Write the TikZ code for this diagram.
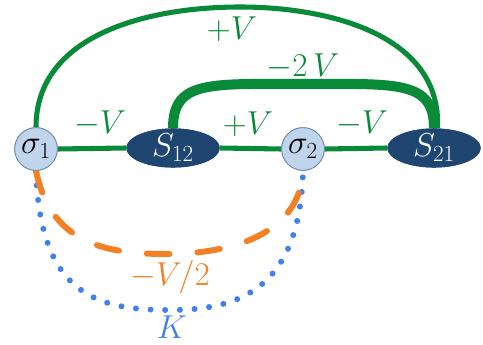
\documentclass[tikz,border=0pt]{standalone}
\usepackage{tikz}
\usetikzlibrary{shapes.geometric}
\definecolor{bondgreen}{RGB}{8,138,56}
\definecolor{nodenavy}{RGB}{30,70,112}
\definecolor{nodelight}{RGB}{192,212,235}
\definecolor{nodeedge}{RGB}{105,135,172}
\definecolor{kblue}{RGB}{66,128,238}
\definecolor{halforange}{RGB}{242,128,36}
\tikzset{
  sitenode/.style  = {circle, draw=nodeedge, fill=nodelight, line width=0.6pt,
                      minimum size=32pt, inner sep=0pt, font=\fontsize{27}{29}\selectfont},
  pairnode/.style  = {ellipse, fill=nodenavy, text=white, minimum width=70pt,
                      minimum height=27pt, inner sep=0pt, font=\fontsize{27}{29}\selectfont},
  bond/.style      = {draw=bondgreen, line width=3.8pt},
  thickbond/.style = {draw=bondgreen, line width=7.5pt},
  glab/.style      = {text=bondgreen, font=\fontsize{25}{28}\selectfont, inner sep=0pt}
}

\begin{document}
\begin{tikzpicture}[
    x=0.75pt, y=-0.75pt,
    kline/.style={draw=kblue, line width=4.5pt, line cap=round,
                  dash pattern=on 0pt off 11pt},
    hline/.style={draw=halforange, line width=4.5pt, line cap=round,
                  dash pattern=on 17pt off 21pt},
    olab/.style={text=halforange, font=\fontsize{25}{28}\selectfont, inner sep=0pt},
    klab/.style={text=kblue, font=\fontsize{23}{26}\selectfont, inner sep=0pt}
  ]
  \useasboundingbox (0,0) rectangle (483,345);

  % ===================== nodes =====================
  \node[sitenode] (sig1) at (36,149) {$\sigma_1$};
  \node[pairnode] (s12)  at (173,148) {$S_{12}$};
  \node[sitenode] (sig2) at (303,149) {$\sigma_2$};
  \node[pairnode] (s21)  at (434,148) {$S_{21}$};

  % ===================== lower couplings =====================
  \draw[kline] (sig1.south) .. controls (40,298) and (100,310) .. (171,310)
               .. controls (240,310) and (300,288) .. (sig2.south);
  \draw[hline] (sig1.south) .. controls (50,240) and (100,254) .. (165,254)
               .. controls (240,254) and (300,230) .. (sig2.south);
  \node[olab] (halfv) at (170,277) {$-V/2$};
  \node[klab] (kk) at (172,327) {$K$};

  % ===================== green bonds =====================
  \draw[bond] (sig1.east) -- (s12.west);
  \draw[bond] (s12.east) -- (sig2.west);
  \draw[bond] (sig2.east) -- (s21.west);
  \draw[bond] (sig1.north) .. controls (36,35) and (147,7) .. (240,7)
              .. controls (331,7) and (442,36) .. (s21.80);
  \draw[thickbond] (s12.north) .. controls (173,80) and (210,84) .. (303,84)
                   .. controls (396,84) and (434,80) .. (s21.north);

  % redraw nodes over the bond ends
  \node[sitenode] at (sig1) {$\sigma_1$};
  \node[pairnode] at (s12) {$S_{12}$};
  \node[sitenode] at (sig2) {$\sigma_2$};
  \node[pairnode] at (s21) {$S_{21}$};

  % ===================== labels =====================
  \node[glab] (l1) at (232,29) {$+V$};
  \node[glab] (l2) at (303,67) {$-2\,V$};
  \node[glab] (l3) at (100,124) {$-V$};
  \node[glab] (l4) at (248,124) {$+V$};
  \node[glab] (l5) at (362,124) {$-V$};
\end{tikzpicture}
\end{document}
